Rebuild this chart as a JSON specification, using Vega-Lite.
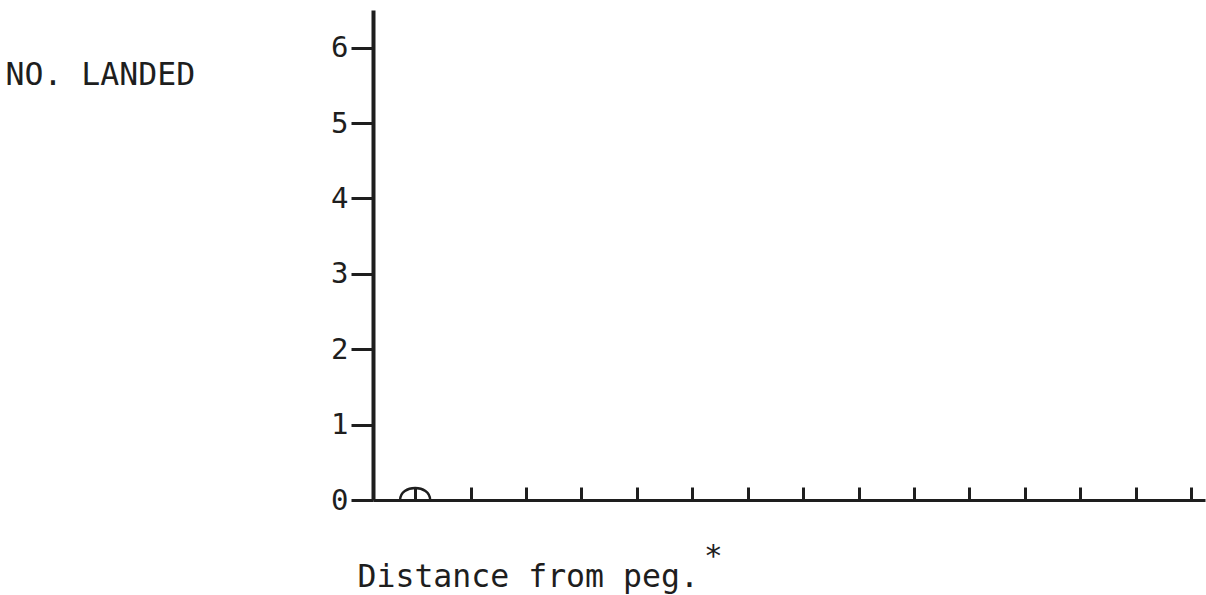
{
  "$schema": "https://vega.github.io/schema/vega-lite/v6.json",
  "autosize": "none",
  "width": 832,
  "height": 490,
  "padding": {"left": 373, "top": 10, "right": 1, "bottom": 95},
  "background": "white",
  "config": {"view": {"stroke": null}, "font": "DejaVu Sans Mono"},
  "title": {"text": "*", "orient": "bottom", "anchor": "start", "frame": "group", "dx": 331, "dy": -55, "fontSize": 31, "font": "DejaVu Sans Mono", "fontWeight": "normal", "color": "#1e1e1e"},
  "data": {"values": [{"distance": 1, "landed": 0}]},
  "mark": {"type": "point", "shape": "M -1 0 C -1 -1.07 1 -1.07 1 0", "size": 900, "filled": false, "opacity": 1, "stroke": "#1e1e1e", "strokeWidth": 2.5, "clip": false},
  "encoding": {
    "x": {
      "field": "distance", "type": "quantitative",
      "scale": {"domain": [0.24, 15.25], "nice": false, "zero": false},
      "axis": {
        "values": [1,2,3,4,5,6,7,8,9,10,11,12,13,14,15],
        "labels": false, "grid": false,
        "tickSize": -13, "tickWidth": 3, "tickColor": "#1e1e1e",
        "domainColor": "#1e1e1e", "domainWidth": 3,
        "title": "Distance from peg.",
        "titleFont": "DejaVu Sans Mono", "titleFontSize": 31.5, "titleFontWeight": "normal", "titleColor": "#1e1e1e",
        "titleAlign": "left", "titleBaseline": "middle", "titleX": -16, "titleY": 77
      }
    },
    "y": {
      "field": "landed", "type": "quantitative",
      "scale": {"domain": [0, 6.5], "nice": false},
      "axis": {
        "values": [0,1,2,3,4,5,6],
        "grid": false,
        "tickSize": 22, "tickWidth": 3, "tickColor": "#1e1e1e",
        "labelPadding": 3, "labelFont": "DejaVu Sans Mono", "labelFontSize": 29, "labelColor": "#1e1e1e",
        "domainColor": "#1e1e1e", "domainWidth": 4,
        "title": "NO. LANDED", "titleAngle": 0,
        "titleFont": "DejaVu Sans Mono", "titleFontSize": 31.5, "titleFontWeight": "normal", "titleColor": "#1e1e1e",
        "titleAlign": "left", "titleBaseline": "middle", "titleX": -368, "titleY": 65
      }
    }
  }
}
